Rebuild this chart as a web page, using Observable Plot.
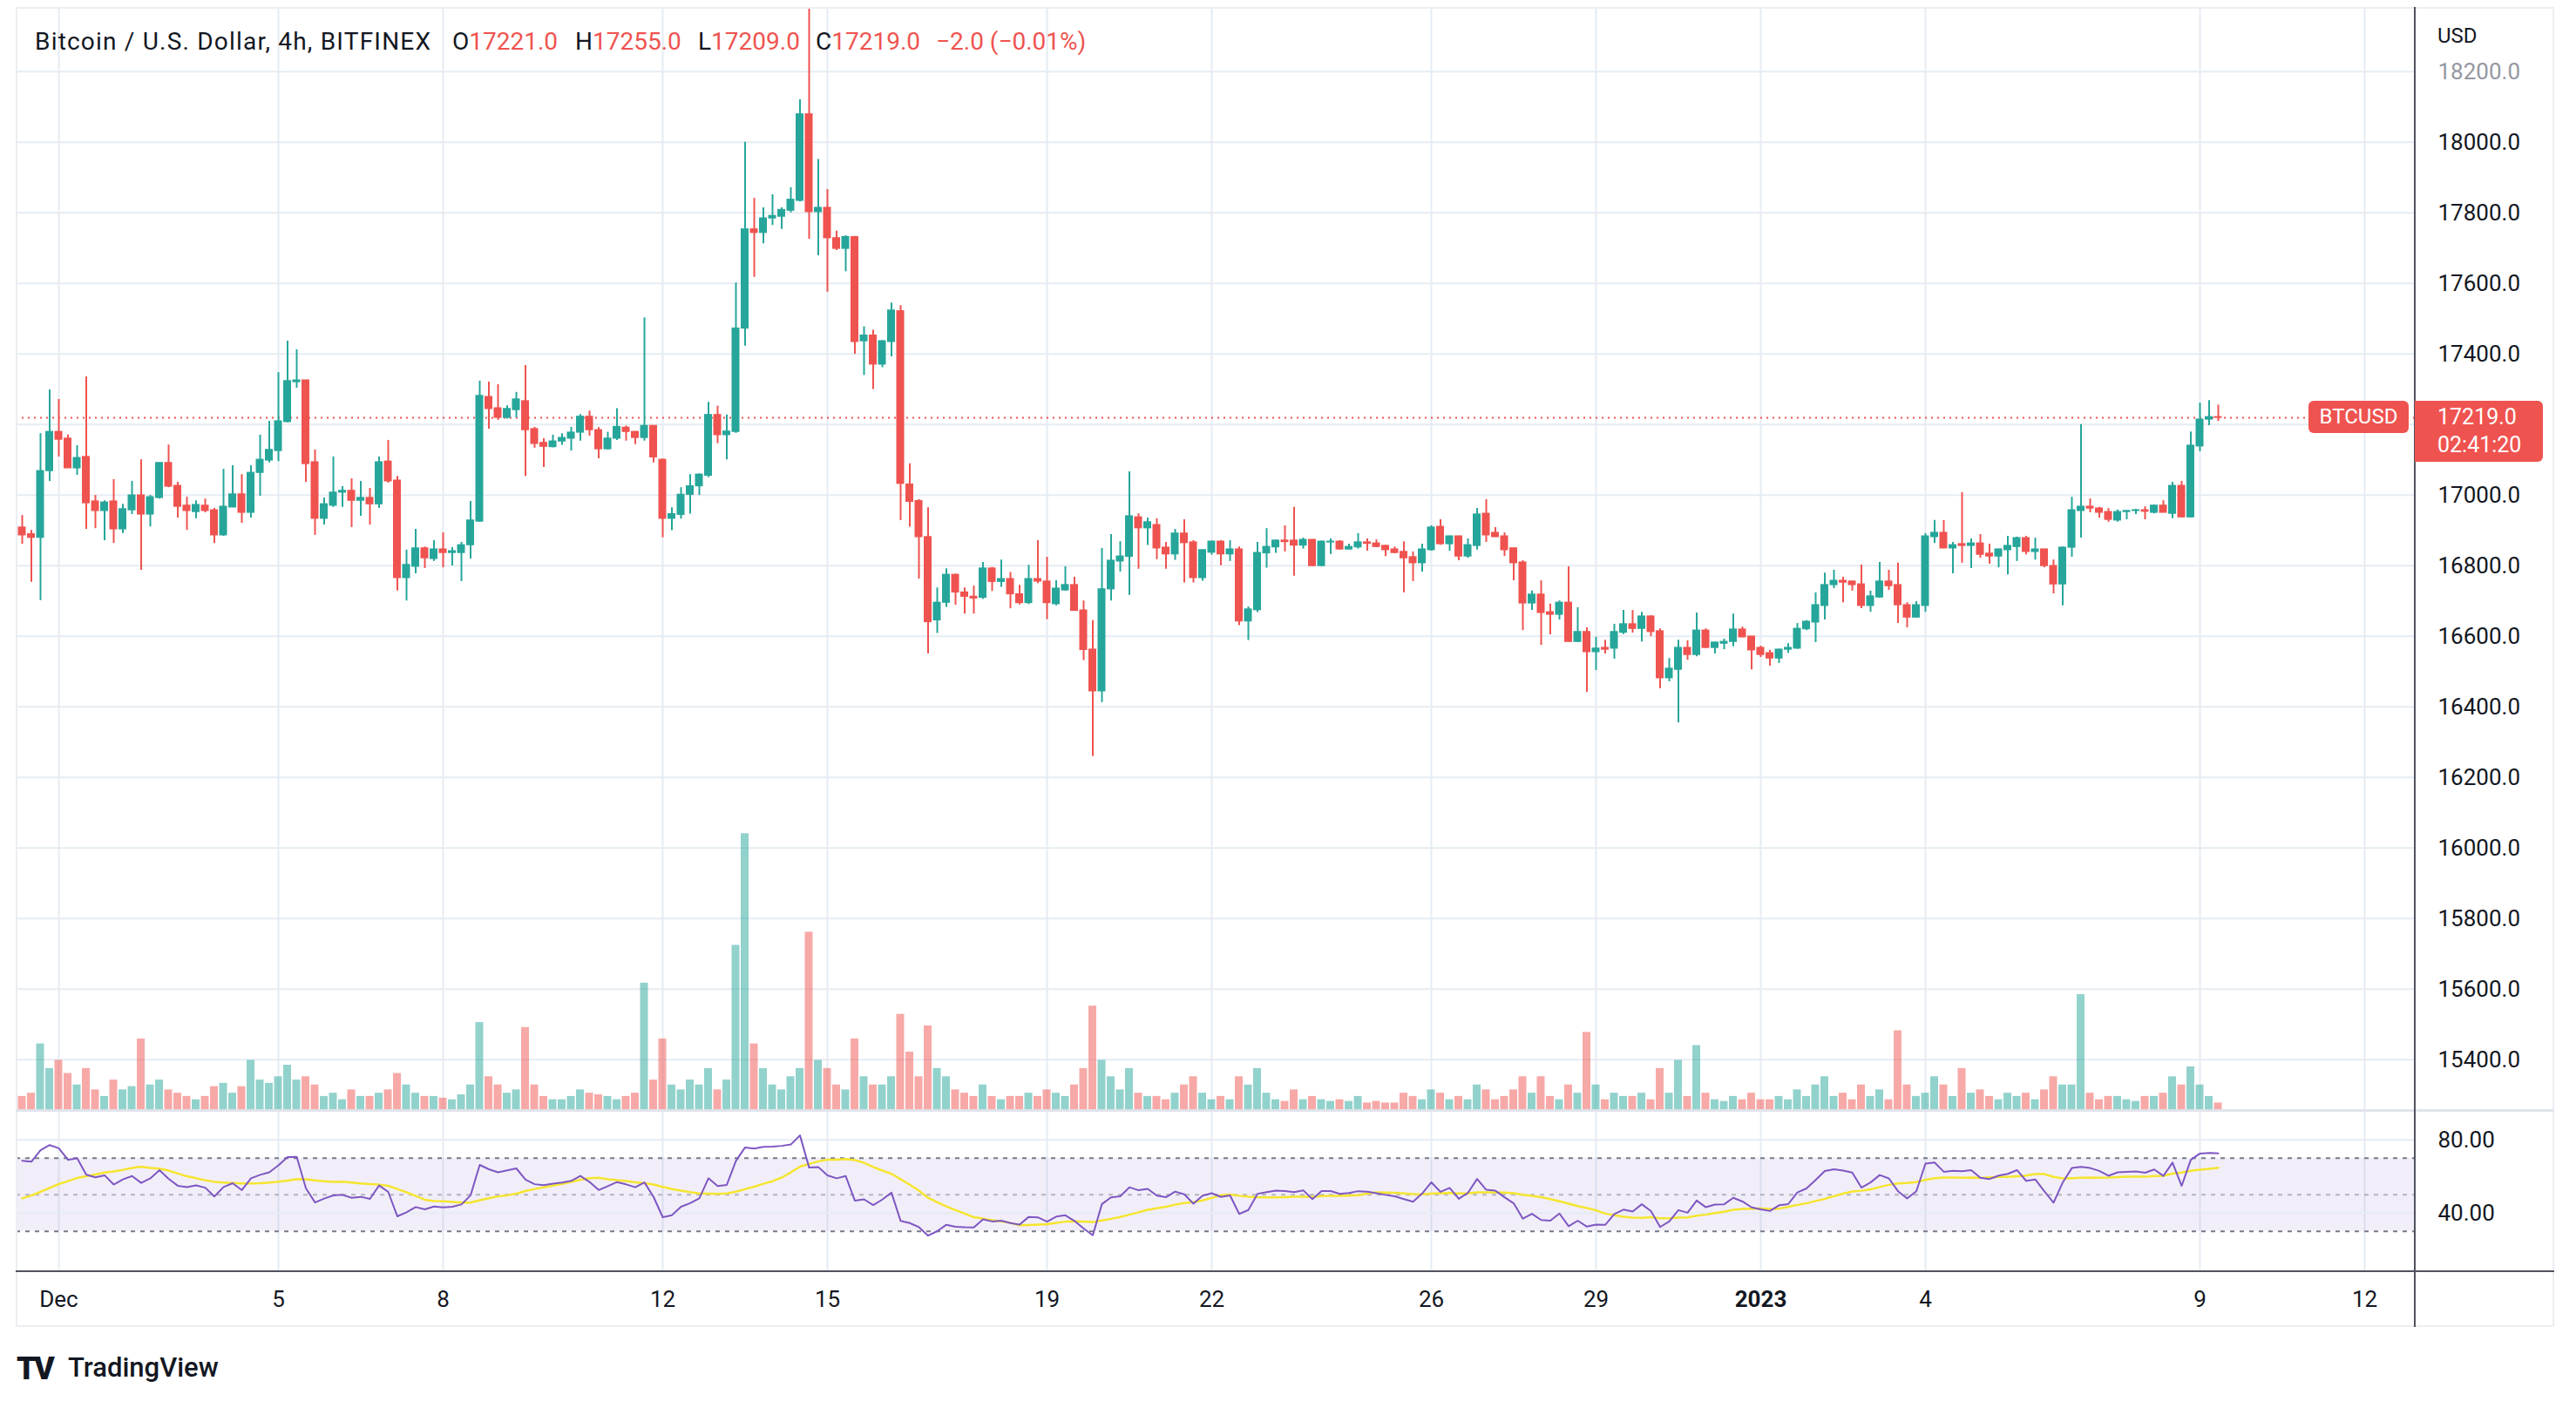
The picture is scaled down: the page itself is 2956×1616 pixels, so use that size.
<!DOCTYPE html>
<html>
<head>
<meta charset="utf-8">
<script src="https://cdn.jsdelivr.net/npm/d3@7"></script>
<script src="https://cdn.jsdelivr.net/npm/@observablehq/plot@0.6"></script>
<style>
html,body{margin:0;padding:0;background:#fff;}
#root{position:relative;width:2956px;height:1616px;overflow:hidden;background:#fff;font-family:Roboto,"Liberation Sans",sans-serif;color:#131722;}
#root svg{position:absolute;left:0;max-width:none;}
.abs{position:absolute;white-space:nowrap;}
</style>
</head>
<body>
<div id="root"></div>
<script>
// ---------- DATA (BTCUSD, Bitfinex, 4h candles, first candle 30 Nov 2022 08:00 UTC) ----------
const firstCandle = Date.UTC(2022, 10, 30, 8);
const candleHours = 4;

const open = [
16908,16889,16879,17068,17179,17160,17076,17108,16982,16955,
16982,16903,16957,16999,16945,16992,17091,17026,16970,16952,
16970,16957,16886,16965,17002,16950,17063,17098,17125,17207,
17320,17325,17093,16933,16970,17007,17012,16984,16992,16974,
17095,17041,16765,16797,16849,16819,16846,16836,16836,16858,
16925,17278,17246,17219,17241,17266,17187,17148,17136,17152,
17160,17177,17222,17184,17130,17160,17191,17179,17162,17196,
17100,16933,16944,17001,17025,17055,17227,17170,17179,17472,
17753,17743,17784,17789,17806,17834,18079,17802,17814,17728,
17698,17731,17436,17452,17370,17434,17521,17030,16983,16881,
16645,16695,16774,16724,16712,16709,16792,16754,16762,16719,
16694,16762,16755,16691,16730,16745,16673,16562,16444,16733,
16812,16825,16937,16906,16915,16851,16832,16891,16866,16765,
16837,16868,16832,16846,16642,16674,16835,16852,16871,16871,
16857,16873,16799,16866,16868,16846,16852,16866,16863,16856,
16846,16839,16824,16807,16844,16910,16861,16883,16826,16856,
16947,16893,16883,16849,16809,16693,16718,16668,16661,16695,
16584,16612,16555,16567,16565,16610,16634,16621,16656,16614,
16481,16505,16567,16547,16616,16567,16579,16584,16619,16599,
16567,16552,16537,16562,16565,16620,16639,16686,16745,16757,
16755,16747,16686,16710,16755,16745,16688,16653,16686,16881,
16893,16849,16861,16856,16863,16834,16826,16844,16853,16878,
16839,16846,16799,16747,16851,16955,16967,16962,16952,16928,
16952,16955,16957,16950,16970,16947,17026,16937,17138,17214,
17221];
const high = [
16942,16900,17174,17298,17271,17170,17140,17335,16999,16984,
17044,16974,17039,17100,16999,17091,17142,17036,16994,16984,
16989,16962,17073,17083,17058,17083,17170,17209,17347,17436,
17412,17325,17128,16992,17108,17024,17046,17039,17019,17108,
17155,17053,16844,16903,16853,16871,16893,16851,16866,16982,
17323,17320,17313,17253,17291,17367,17192,17160,17170,17174,
17192,17228,17238,17191,17178,17245,17196,17180,17502,17196,
17102,16964,17021,17058,17060,17263,17252,17227,17601,18000,
17841,17814,17851,17814,17871,18120,18390,17951,17866,17748,
17735,17733,17477,17467,17438,17544,17537,17089,16987,16964,
16737,16791,16776,16737,16742,16809,16795,16816,16781,16744,
16801,16871,16824,16757,16797,16767,16700,16644,16849,16888,
16868,17066,16947,16935,16933,16866,16903,16930,16871,16845,
16870,16871,16871,16853,16683,16866,16905,16872,16913,16965,
16878,16874,16870,16876,16871,16861,16891,16876,16873,16858,
16853,16868,16839,16861,16913,16930,16884,16884,16876,16962,
16987,16908,16893,16850,16814,16728,16757,16691,16700,16797,
16681,16624,16597,16589,16634,16673,16673,16668,16658,16621,
16537,16589,16587,16666,16621,16583,16592,16663,16626,16600,
16572,16560,16563,16579,16636,16644,16723,16779,16787,16767,
16756,16802,16728,16809,16787,16807,16695,16698,16891,16928,
16928,16866,17007,16876,16888,16861,16847,16883,16881,16883,
16878,16847,16816,16853,16994,17200,16989,16965,16962,16958,
16956,16960,16967,16972,16984,17036,17039,17179,17261,17268,
17255];
const low = [
16861,16753,16701,17039,17108,17076,17056,16903,16905,16871,
16863,16891,16945,16787,16910,16989,17021,16935,16900,16933,
16950,16863,16883,16965,16920,16935,16997,17091,17095,17205,
17303,17036,16886,16915,16965,16965,16908,16940,16915,16962,
17034,16728,16700,16777,16792,16812,16794,16799,16755,16819,
16923,17187,17212,17215,17219,17053,17133,17078,17134,17141,
17125,17153,17167,17103,17128,17155,17153,17143,17153,17091,
16879,16899,16932,16946,16999,17050,17146,17100,17175,17422,
17617,17712,17764,17753,17800,17831,17725,17678,17575,17693,
17633,17399,17339,17299,17361,17392,16928,16909,16762,16550,
16608,16682,16688,16663,16663,16705,16727,16739,16678,16689,
16690,16749,16647,16686,16728,16672,16531,16259,16412,16700,
16782,16716,16790,16857,16817,16790,16815,16751,16751,16756,
16830,16800,16812,16630,16588,16667,16793,16835,16839,16770,
16847,16797,16797,16832,16845,16844,16847,16841,16851,16826,
16834,16723,16755,16782,16841,16858,16841,16814,16821,16844,
16866,16880,16826,16757,16616,16673,16574,16604,16646,16584,
16582,16441,16503,16550,16535,16605,16609,16584,16599,16451,
16471,16355,16532,16542,16565,16550,16562,16570,16596,16505,
16540,16515,16523,16552,16563,16616,16582,16646,16735,16695,
16728,16678,16668,16708,16730,16636,16624,16652,16668,16863,
16848,16777,16807,16792,16821,16804,16794,16774,16812,16831,
16816,16794,16720,16686,16824,16878,16950,16935,16923,16923,
16930,16945,16930,16947,16950,16933,16935,16935,17123,17197,
17209];
const close = [
16886,16879,17068,17179,17157,17076,17105,16977,16955,16979,
16903,16960,16999,16945,16994,17091,17024,16967,16955,16972,
16955,16886,16967,17002,16950,17063,17100,17128,17209,17323,
17325,17088,16933,16974,17007,17012,16984,16992,16974,17093,
17039,16765,16802,16849,16821,16846,16836,16841,16858,16928,
17281,17244,17219,17244,17271,17184,17145,17137,17152,17162,
17177,17222,17184,17130,17160,17193,17179,17162,17196,17107,
16933,16946,17001,17025,17058,17227,17170,17180,17472,17753,
17743,17784,17791,17808,17837,18079,17802,17814,17728,17698,
17731,17434,17452,17370,17436,17523,17032,16981,16881,16640,
16695,16774,16724,16712,16707,16792,16754,16762,16719,16694,
16762,16755,16694,16735,16745,16672,16561,16444,16733,16814,
16826,16940,16906,16923,16849,16832,16891,16864,16765,16844,
16868,16832,16846,16642,16676,16836,16853,16871,16867,16857,
16873,16799,16868,16868,16846,16853,16866,16862,16853,16844,
16836,16821,16807,16846,16908,16861,16883,16826,16858,16945,
16886,16881,16844,16807,16693,16718,16666,16661,16695,16584,
16612,16555,16565,16562,16612,16634,16621,16656,16612,16481,
16508,16567,16547,16616,16567,16582,16584,16619,16597,16560,
16547,16537,16562,16567,16621,16641,16688,16745,16757,16752,
16745,16686,16713,16755,16742,16688,16653,16688,16883,16893,
16849,16858,16856,16863,16831,16826,16846,16856,16878,16839,
16846,16799,16747,16851,16957,16967,16962,16950,16930,16952,
16955,16957,16953,16970,16950,17026,16937,17140,17214,17221,
17219];
const volume = [
80,100,400,250,300,220,150,250,120,80,
180,120,140,430,150,180,120,100,80,60,
80,140,160,100,140,300,180,160,200,270,
180,200,150,80,100,60,120,80,80,100,
120,220,150,100,80,80,70,60,90,150,
530,200,150,100,120,500,150,80,60,60,
80,120,100,90,80,60,80,100,770,180,
430,150,120,180,150,250,120,180,1000,1680,
400,250,150,120,200,250,1080,300,250,150,
120,430,200,150,150,200,580,350,200,510,
250,200,120,100,80,150,80,60,80,80,
100,80,120,100,80,150,250,630,300,200,
120,250,100,80,80,60,100,150,200,100,
60,80,60,200,150,250,100,60,50,120,
60,80,60,50,60,50,80,40,50,40,
40,100,80,60,120,100,60,80,60,150,
120,60,80,120,200,100,200,80,60,150,
100,470,150,60,100,80,80,100,60,250,
100,300,80,390,100,60,50,80,60,100,
60,60,80,60,120,80,150,200,80,100,
60,150,80,120,60,480,150,80,100,200,
150,80,250,100,120,80,60,100,80,100,
60,120,200,150,150,700,100,60,80,80,
60,50,80,80,100,200,150,260,150,80,
40];

const priceTicks = [15400,15600,15800,16000,16200,16400,16600,16800,17000,17200,17400,17600,17800,18000,18200];
const dateTicks = [Date.UTC(2022,11,1),Date.UTC(2022,11,5),Date.UTC(2022,11,8),Date.UTC(2022,11,12),Date.UTC(2022,11,15),Date.UTC(2022,11,19),Date.UTC(2022,11,22),Date.UTC(2022,11,26),Date.UTC(2022,11,29),Date.UTC(2023,0,1),Date.UTC(2023,0,4),Date.UTC(2023,0,9),Date.UTC(2023,0,12)];
const dateTickLabels = ["Dec","5","8","12","15","19","22","26","29","2023","4","9","12"];
const rsiLevels = [70,50,30];
const rsiTicks = [80,40];
const rsiLength = 14;
// RSI and its SMA as read at the first visible candle (history before it is off-screen)
const rsiFirstValue = 68.6;
const rsiSmaFirstValue = 48;

// ---------- LAYOUT ----------
const W = 2956;
const green = "#26a69a", red = "#ef5350";
const FONT = "Roboto, 'Liberation Sans', sans-serif";
const STEP = candleHours*3600*1000;
const dec1 = Date.UTC(2022,11,1);
const plotLeft = 18, plotRight = 2771, barPx = 10.5, dec1Px = 67;
const xDomain = [new Date(dec1 + (plotLeft-dec1Px)/barPx*STEP), new Date(dec1 + (plotRight-dec1Px)/barPx*STEP)];
const paneTop = 10, paneBottom = 1273;
const yDomain = [15258.5, 18377];
const lastClose = close[close.length-1];
// axis labels hidden behind the last-price label (within ~45px of it)
const pxPerUsd = (paneBottom-paneTop)/(yDomain[1]-yDomain[0]);
const shownPriceTicks = priceTicks.filter(t=>Math.abs(t-lastClose)*pxPerUsd > 45);

const candles = open.map((o,i)=>({date:new Date(firstCandle+i*STEP), open:o, high:high[i], low:low[i], close:close[i], volume:volume[i], up: close[i]>=o}));
const half = STEP/2;
const x1 = d=>new Date(+d.date-half), x2 = d=>new Date(+d.date+half);

// RSI (Wilder, 14) from the closes, continuing from the state read at the left edge
const rsi = [rsiFirstValue];
{
  const m = d3.mean(d3.range(1, rsiLength+1), i=>Math.abs(close[i]-close[i-1]));
  let ag = m*rsiFirstValue/100, al = m*(1-rsiFirstValue/100);
  for (let i=1;i<close.length;i++){
    const ch = close[i]-close[i-1], g=Math.max(ch,0), l=Math.max(-ch,0);
    ag=(ag*(rsiLength-1)+g)/rsiLength; al=(al*(rsiLength-1)+l)/rsiLength;
    rsi.push(al===0?100:100-100/(1+ag/al));
  }
}
const rsiPrior = (rsiSmaFirstValue*rsiLength - rsi[0])/(rsiLength-1);
const rsiSma = rsi.map((v,i)=>{ let s=0; for(let j=i-rsiLength+1;j<=i;j++) s += j<0 ? rsiPrior : rsi[j]; return s/rsiLength; });
const rsiData = candles.map((d,i)=>({date:d.date, rsi:rsi[i], sma:rsiSma[i]}));

const root = document.getElementById("root");
function put(el, top){ el.style.top = top+"px"; root.appendChild(el); return el; }
function div(css, html){ const e=document.createElement("div"); e.className="abs"; e.style.cssText=css; if(html!=null) e.innerHTML=html; root.appendChild(e); return e; }

const gridColor = "#e5ecf3";

// price pane
const pricePlot = Plot.plot({
  width: W, height: paneBottom+1, marginLeft: plotLeft, marginRight: W-plotRight, marginTop: paneTop, marginBottom: 1,
  style: {background:"transparent", fontFamily: FONT},
  x: {type:"utc", domain:xDomain, axis:null},
  y: {domain:yDomain, axis:null},
  color: {type:"identity"},
  marks: [
    Plot.gridX(dateTicks.map(d=>new Date(d)), {stroke:gridColor, strokeOpacity:1, strokeWidth:2}),
    Plot.gridY(priceTicks, {stroke:gridColor, strokeOpacity:1, strokeWidth:2}),
    Plot.text(shownPriceTicks, {y:d=>d, frameAnchor:"right", dx:26, textAnchor:"start", text:d=>d.toFixed(1), fontSize:26, fill:d=>d===18200?"#9598a1":"#131722"}),
    Plot.ruleY([lastClose], {stroke:red, strokeWidth:2, strokeDasharray:"2,5"}),
    Plot.ruleX(candles, {x:"date", y1:"low", y2:"high", stroke:d=>d.up?green:red, strokeWidth:2, clip:true}),
    Plot.rect(candles, {x1, x2, y1:"open", y2:"close", fill:d=>d.up?green:red, insetLeft:0.75, insetRight:0.75, insetTop:-0.6, insetBottom:-0.6})
  ]
});
put(pricePlot, 0);

// volume overlay (own scale, same pane)
const volPlot = Plot.plot({
  width: W, height: paneBottom+1, marginLeft: plotLeft, marginRight: W-plotRight, marginTop: paneTop, marginBottom: 1,
  style: {background:"transparent"},
  x: {type:"utc", domain:xDomain, axis:null},
  y: {domain:[0, 6700], axis:null},
  color: {type:"identity"},
  marks: [
    Plot.rectY(candles, {x1, x2, y:"volume", fill:d=>d.up?"rgba(38,166,154,0.5)":"rgba(239,83,80,0.5)", insetLeft:0.75, insetRight:0.75})
  ]
});
put(volPlot, 0);

// RSI pane
const rsiPlot = Plot.plot({
  width: W, height: 186, marginLeft: plotLeft, marginRight: W-plotRight, marginTop: 3, marginBottom: 0,
  style: {background:"transparent", fontFamily: FONT},
  x: {type:"utc", domain:xDomain, axis:null},
  y: {domain:[7.95, 95.1], axis:null},
  marks: [
    Plot.gridX(dateTicks.map(d=>new Date(d)), {stroke:gridColor, strokeOpacity:1, strokeWidth:2}),
    Plot.rect([rsiLevels], {y1:d=>d[0], y2:d=>d[2], fill:"#7e57c2", fillOpacity:0.1}),
    Plot.gridY(rsiTicks, {stroke:gridColor, strokeOpacity:1, strokeWidth:2}),
    Plot.ruleY([rsiLevels[0], rsiLevels[2]], {stroke:"#787b86", strokeWidth:2, strokeDasharray:"5,6"}),
    Plot.ruleY([rsiLevels[1]], {stroke:"#787b86", strokeOpacity:0.5, strokeWidth:2, strokeDasharray:"5,6"}),
    Plot.text(rsiTicks, {y:d=>d, frameAnchor:"right", dx:26, textAnchor:"start", text:d=>d.toFixed(2), fontSize:26, fill:"#131722"}),
    Plot.line(rsiData, {x:"date", y:"sma", stroke:"#f5e52f", strokeWidth:2.5}),
    Plot.line(rsiData, {x:"date", y:"rsi", stroke:"#7e57c2", strokeWidth:2})
  ]
});
put(rsiPlot, 1273);

// time axis
const tickObjs = dateTicks.map((d,i)=>({date:new Date(d), label:dateTickLabels[i], year:/^\d{4}$/.test(dateTickLabels[i])}));
const axisPlot = Plot.plot({
  width: W, height: 64, marginLeft: plotLeft, marginRight: W-plotRight, marginTop: 0, marginBottom: 0,
  style: {background:"transparent", fontFamily: FONT},
  x: {type:"utc", domain:xDomain, axis:null},
  marks: [
    Plot.text(tickObjs.filter(t=>!t.year), {x:"date", text:"label", fontSize:26, fill:"#131722"}),
    Plot.text(tickObjs.filter(t=>t.year), {x:"date", text:"label", fontSize:26, fontWeight:"bold", fill:"#131722"})
  ]
});
put(axisPlot, 1459);

// frame lines
div(`left:${plotLeft}px;top:${paneTop-2}px;width:${2931-plotLeft}px;height:${1523-paneTop+2}px;border:2px solid #eceef2;box-sizing:border-box;`);
div(`left:${plotLeft}px;top:${paneBottom}px;width:${2931-plotLeft}px;height:3px;background:#e0e3eb;`);
div(`left:${plotLeft}px;top:1458px;width:${2931-plotLeft}px;height:2px;background:#50535e;`);
div(`left:${plotRight-1}px;top:${paneTop-2}px;width:2px;height:${1523-paneTop+2}px;background:#50535e;`);

// last price labels (positioned through the price scale)
const lastY = pricePlot.scale("y").apply(lastClose);
div(`left:2649px;top:${lastY-19}px;width:115px;height:37px;background:${red};border-radius:6px;color:#fff;font-size:24px;line-height:37px;text-align:center;`, "BTCUSD");
div(`left:${plotRight}px;top:${lastY-19}px;width:147px;height:70px;background:${red};border-radius:0 6px 6px 0;`);
div(`left:2797px;top:${lastY-15}px;height:30px;line-height:30px;font-size:25px;color:#fff;`, lastClose.toFixed(1));
div(`left:2797px;top:${lastY+17}px;height:30px;line-height:30px;font-size:25px;color:#fff;`, "02:41:20");
div(`left:2797px;top:27px;font-size:24px;color:#131722;`, "USD");

// header legend
const lc = candles[candles.length-1];
const chg = lc.close - lc.open;
const sgn = v=>v<0?"−":"+";
const hdr = "top:31px;font-size:28px;color:#131722;";
div(`left:40px;${hdr}letter-spacing:1.2px;`, "Bitcoin / U.S. Dollar, 4h, BITFINEX");
div(`left:519px;${hdr}`, `O<span style="color:${red}">${lc.open.toFixed(1)}</span>`);
div(`left:660px;${hdr}`, `H<span style="color:${red}">${lc.high.toFixed(1)}</span>`);
div(`left:801px;${hdr}`, `L<span style="color:${red}">${lc.low.toFixed(1)}</span>`);
div(`left:936px;${hdr}`, `C<span style="color:${red}">${lc.close.toFixed(1)}</span>`);
div(`left:1074px;${hdr}color:${red};`, `${sgn(chg)}${Math.abs(chg).toFixed(1)} (${sgn(chg)}${Math.abs(chg/lc.open*100).toFixed(2)}%)`);

// logo
div(`left:19px;top:1550px;font-size:36px;font-weight:900;color:#131722;letter-spacing:-3px;`, "TV");
div(`left:78px;top:1551px;font-size:31px;font-weight:500;color:#131722;`, "TradingView");
</script>
</body>
</html>
